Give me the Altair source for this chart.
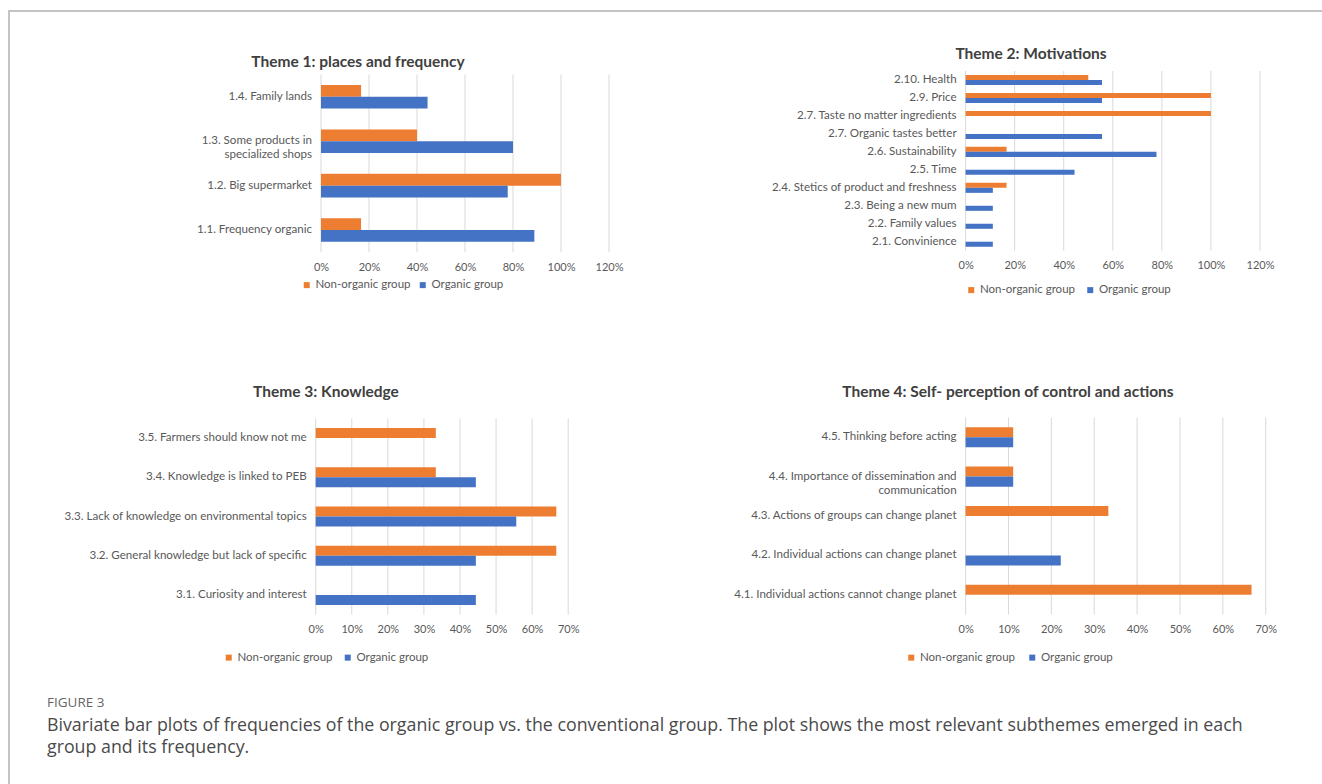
import altair as alt
import pandas as pd

# ---------------- data ----------------
GROUPS = ["Non-organic group", "Organic group"]
COLORS = ["#ED7D31", "#4472C4"]

t1_cats = ["1.4. Family lands", "1.3. Some products in|specialized shops",
           "1.2. Big supermarket", "1.1. Frequency organic"]
t1_non = [0.167, 0.40, 1.00, 0.167]
t1_org = [0.444, 0.80, 0.778, 0.889]

t2_cats = ["2.10. Health", "2.9. Price", "2.7. Taste no matter ingredients",
           "2.7. Organic tastes better", "2.6. Sustainability", "2.5. Time",
           "2.4. Stetics of product and freshness", "2.3. Being a new mum",
           "2.2. Family values", "2.1. Convinience"]
t2_non = [0.50, 1.00, 1.00, 0.0, 0.167, 0.0, 0.167, 0.0, 0.0, 0.0]
t2_org = [0.556, 0.556, 0.0, 0.556, 0.778, 0.444, 0.111, 0.111, 0.111, 0.111]

t3_cats = ["3.5. Farmers should know not me", "3.4. Knowledge is linked to PEB",
           "3.3. Lack of knowledge on environmental topics",
           "3.2. General knowledge but lack of specific", "3.1. Curiosity and interest"]
t3_non = [0.333, 0.333, 0.667, 0.667, 0.0]
t3_org = [0.0, 0.444, 0.556, 0.444, 0.444]

t4_cats = ["4.5. Thinking before acting", "4.4. Importance of dissemination and|communication",
           "4.3. Actions of groups can change planet", "4.2. Individual actions can change planet",
           "4.1. Individual actions cannot change planet"]
t4_non = [0.111, 0.111, 0.333, 0.0, 0.667]
t4_org = [0.111, 0.111, 0.0, 0.222, 0.0]

ticks_120 = [0, 0.2, 0.4, 0.6, 0.8, 1.0, 1.2]
ticks_70 = [0, 0.1, 0.2, 0.3, 0.4, 0.5, 0.6, 0.7]

titles = ["Theme 1: places and frequency", "Theme 2: Motivations",
          "Theme 3: Knowledge", "Theme 4: Self- perception of control and actions"]
fig_label = "FIGURE 3"
caption_lines = [
    "Bivariate bar plots of frequencies of the organic group vs. the conventional group. The plot shows the most relevant subthemes emerged in each",
    "group and its frequency.",
]

# ---------------- layout ----------------
W, H = 1322, 784
FONT = "Lato"
LABEL_COLOR = "#595959"


def frame_df(cats, non, org):
    rows = []
    for c, n, o in zip(cats, non, org):
        rows.append({"cat": c, "group": GROUPS[0], "value": n})
        rows.append({"cat": c, "group": GROUPS[1], "value": o})
    return pd.DataFrame(rows)


def panel(cats, non, org, xmax, ticks, xr, yr, pin, leg_xy, col_pad):
    df = frame_df(cats, non, org)
    xscale = alt.Scale(domain=[0, xmax], range=xr, nice=False, zero=True)
    xaxis = alt.Axis(orient="bottom", offset=yr[1] - H, values=ticks, format=".0%",
                     grid=False, domain=False, ticks=False, tickSize=0,
                     labelPadding=9, labelFlush=False, labelFont=FONT,
                     labelFontSize=11, labelColor=LABEL_COLOR, title=None)
    grid = alt.Chart(pd.DataFrame({"tick": ticks})).mark_rule(
        color="#D9D9D9", strokeWidth=1).encode(
        x=alt.X("tick:Q", scale=xscale, axis=xaxis, title=None),
        y=alt.value(yr[0]), y2=alt.value(yr[1]))
    bars = alt.Chart(df).mark_bar().encode(
        x=alt.X("value:Q", scale=xscale, axis=xaxis, title=None),
        y=alt.Y("cat:N", sort=cats,
                scale=alt.Scale(domain=cats, range=yr, paddingInner=pin, paddingOuter=pin / 2),
                axis=alt.Axis(orient="left", offset=-xr[0], domain=False, ticks=False,
                              tickSize=0, labelPadding=9.5, grid=False, labelLimit=400,
                              labelExpr="split(datum.label, '|')", labelLineHeight=14,
                              labelFont=FONT, labelFontSize=11.6, labelColor=LABEL_COLOR,
                              title=None)),
        yOffset=alt.YOffset("group:N", sort=GROUPS, scale=alt.Scale(domain=GROUPS)),
        color=alt.Color("group:N", sort=GROUPS,
                        scale=alt.Scale(domain=GROUPS, range=COLORS),
                        legend=alt.Legend(orient="none", legendX=leg_xy[0], legendY=leg_xy[1],
                                          direction="horizontal", title=None,
                                          symbolType="square", symbolSize=36,
                                          symbolStrokeWidth=0, labelOffset=3,
                                          columnPadding=col_pad, padding=0,
                                          labelFont=FONT, labelFontSize=11.5,
                                          labelColor=LABEL_COLOR)),
    )
    return alt.layer(grid, bars)


p1 = panel(t1_cats, t1_non, t1_org, 1.2, ticks_120, [321, 609], [74.5, 252.3], 0.47,
           (301, 279), 6)
p2 = panel(t2_cats, t2_non, t2_org, 1.2, ticks_120, [965.6, 1260], [71, 250.7], 0.44,
           (965.5, 284), 9)
p3 = panel(t3_cats, t3_non, t3_org, 0.7, ticks_70, [315.7, 568.2], [418.4, 614.6], 0.49,
           (223, 651.5), 9)
p4 = panel(t4_cats, t4_non, t4_org, 0.7, ticks_70, [965.6, 1265.7], [417.5, 614.5], 0.49,
           (905.5, 651.5), 11)

one = alt.Data(values=[{}])


def text(t, x, y, size, color, weight="normal", font=FONT, align="center"):
    return alt.Chart(one).mark_text(text=t, font=font, fontSize=size, color=color,
                                    fontWeight=weight, align=align, baseline="middle").encode(
        x=alt.value(x), y=alt.value(y))


title_layers = [
    text(titles[0], 358, 62, 15.5, "#404040", "bold"),
    text(titles[1], 1031, 54, 15.5, "#404040", "bold"),
    text(titles[2], 326, 392, 15.5, "#404040", "bold"),
    text(titles[3], 1008, 392, 15.5, "#404040", "bold"),
]

caption_layers = [
    text(fig_label, 47, 703, 13.5, "#666666", font="Open Sans", align="left"),
    text(caption_lines[0], 47, 726, 17.8, "#4a4a4a", font="Open Sans", align="left"),
    text(caption_lines[1], 47, 748, 17.8, "#4a4a4a", font="Open Sans", align="left"),
]

frame_top = alt.Chart(one).mark_rule(color="#c4c4c4", strokeWidth=2).encode(
    x=alt.value(8), x2=alt.value(W), y=alt.value(11))
frame_left = alt.Chart(one).mark_rule(color="#c4c4c4", strokeWidth=2).encode(
    x=alt.value(9), y=alt.value(10), y2=alt.value(H))

chart = alt.layer(
    frame_top, frame_left, p1, p2, p3, p4, *title_layers, *caption_layers
).resolve_scale(
    x="independent", y="independent", color="independent", yOffset="independent"
).resolve_axis(
    x="independent", y="independent"
).resolve_legend(
    color="independent"
).properties(
    width=W, height=H, autosize=alt.AutoSizeParams(type="none"), padding=0,
    background="white"
).configure_view(strokeWidth=0)

chart.save("out.html", embed_options={"renderer": "svg", "actions": False})
